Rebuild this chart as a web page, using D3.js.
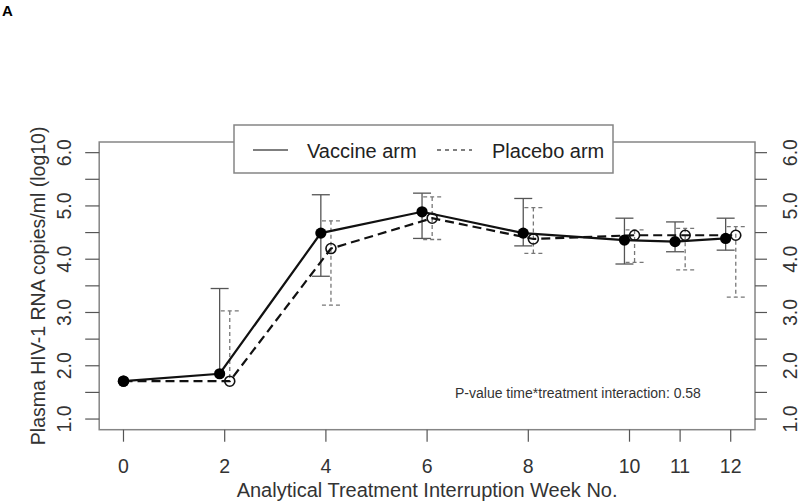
<!DOCTYPE html>
<html><head><meta charset="utf-8">
<script src="https://cdn.jsdelivr.net/npm/d3@7"></script>
<style>body{margin:0;background:#fff}svg{display:block;font-family:"Liberation Sans",Arial,sans-serif}</style>
</head><body>
<svg id="c" width="800" height="502"></svg>
<script>
// ---- data ----
const weeks = [0, 2, 4, 6, 8, 10, 11, 12];
const tickLabels = ["0", "2", "4", "6", "8", "10", "11", "12"];
const vaccineX = [0, 1.9, 3.9, 5.9, 7.9, 9.9, 10.9, 11.9];
const placeboX = [0, 2.1, 4.1, 6.1, 8.1, 10.1, 11.1, 12.1];
const vaccineMean = [1.71, 1.85, 4.49, 4.89, 4.49, 4.36, 4.33, 4.39];
const vaccineUpper = [null, 3.45, 5.21, 5.24, 5.14, 4.77, 4.70, 4.77];
const vaccineLower = [null, null, 3.68, 4.39, 4.25, 3.91, 4.14, 4.17];
const placeboMean = [1.71, 1.71, 4.20, 4.77, 4.38, 4.45, 4.45, 4.45];
const placeboUpper = [null, 3.03, 4.72, 5.17, 4.97, 4.55, 4.58, 4.61];
const placeboLower = [null, null, 3.14, 4.37, 4.11, 3.94, 3.80, 3.29];
const yTicks = [1, 2, 3, 4, 5, 6];
const yMinor = [1, 1.5, 2, 2.5, 3, 3.5, 4, 4.5, 5, 5.5, 6];
const seriesNames = ["Vaccine arm", "Placebo arm"];
const annotation = "P-value time*treatment interaction: 0.58";

const svg = d3.select("#c");
const x = d3.scaleLinear().domain([-0.48, 12.48]).range([99.2, 755]);
const y = d3.scaleLinear().domain([0.8, 6.2]).range([429.7, 142]);
const boxCol = "#858585", txtCol = "#333";

// panel letter
svg.append("text").attr("x", 2).attr("y", 16).attr("font-size", 15).attr("font-weight", "bold").text("A");

// plot box
svg.append("rect").attr("x", x.range()[0]).attr("y", y.range()[1])
  .attr("width", x.range()[1] - x.range()[0]).attr("height", y.range()[0] - y.range()[1])
  .attr("fill", "none").attr("stroke", boxCol).attr("stroke-width", 1.5);

// left axis
const gl = svg.append("g").attr("transform", `translate(${x.range()[0]},0)`);
gl.selectAll("line").data(yMinor).join("line")
  .attr("x1", -14).attr("x2", 0).attr("y1", d => y(d)).attr("y2", d => y(d))
  .attr("stroke", "#555").attr("stroke-width", 1.2);
gl.selectAll("text").data(yTicks).join("text")
  .attr("transform", d => `translate(${71 - x.range()[0]},${y(d)}) rotate(-90)`)
  .attr("text-anchor", "middle").attr("font-size", 19.5).attr("fill", txtCol)
  .text(d => d3.format(".1f")(d));

// right axis
const gr = svg.append("g").attr("transform", `translate(${x.range()[1]},0)`);
gr.selectAll("line").data(yMinor).join("line")
  .attr("x1", 0).attr("x2", 12).attr("y1", d => y(d)).attr("y2", d => y(d))
  .attr("stroke", "#555").attr("stroke-width", 1.2);
gr.selectAll("text").data(yTicks).join("text")
  .attr("transform", d => `translate(${797 - x.range()[1]},${y(d)}) rotate(-90)`)
  .attr("text-anchor", "middle").attr("font-size", 19.5).attr("fill", txtCol)
  .text(d => d3.format(".1f")(d));

// bottom axis
const gb = svg.append("g").attr("transform", `translate(0,${y.range()[0]})`);
gb.selectAll("line").data(weeks).join("line")
  .attr("x1", d => x(d)).attr("x2", d => x(d)).attr("y1", 0).attr("y2", 12)
  .attr("stroke", "#555").attr("stroke-width", 1.2);
gb.selectAll("text").data(weeks).join("text")
  .attr("x", d => x(d)).attr("y", 43).attr("text-anchor", "middle")
  .attr("font-size", 19.5).attr("fill", txtCol).text((d, i) => tickLabels[i]);

// axis titles
svg.append("text").attr("x", (x.range()[0] + x.range()[1]) / 2).attr("y", 497)
  .attr("text-anchor", "middle").attr("font-size", 20).attr("fill", txtCol)
  .text("Analytical Treatment Interruption Week No.");
svg.append("text").attr("transform", `translate(45,${(y.range()[0] + y.range()[1]) / 2}) rotate(-90)`)
  .attr("text-anchor", "middle").attr("font-size", 19.5).attr("fill", txtCol)
  .text("Plasma HIV-1 RNA copies/ml (log10)");

// error bars
function errBars(xs, mean, up, lo, col, dash) {
  const g = svg.append("g").attr("stroke", col).attr("stroke-width", 1.3).attr("fill", "none")
    .attr("stroke-dasharray", dash);
  xs.forEach((xv, i) => {
    if (up[i] == null) return;
    const top = up[i], bot = lo[i] == null ? mean[i] : lo[i];
    g.append("line").attr("x1", x(xv)).attr("x2", x(xv)).attr("y1", y(top)).attr("y2", y(bot));
    g.append("line").attr("x1", x(xv) - 9).attr("x2", x(xv) + 9).attr("y1", y(top)).attr("y2", y(top));
    if (lo[i] != null)
      g.append("line").attr("x1", x(xv) - 9).attr("x2", x(xv) + 9).attr("y1", y(bot)).attr("y2", y(bot));
  });
}
errBars(vaccineX, vaccineMean, vaccineUpper, vaccineLower, "#555", null);
errBars(placeboX, placeboMean, placeboUpper, placeboLower, "#777", "4,3");

// lines
const line = d3.line().x(d => x(d[0])).y(d => y(d[1]));
svg.append("path").datum(placeboX.map((v, i) => [v, placeboMean[i]]))
  .attr("d", line).attr("fill", "none").attr("stroke", "#111").attr("stroke-width", 2.2)
  .attr("stroke-dasharray", "9,5");
svg.append("path").datum(vaccineX.map((v, i) => [v, vaccineMean[i]]))
  .attr("d", line).attr("fill", "none").attr("stroke", "#111").attr("stroke-width", 2.2);

// points
svg.append("g").selectAll("circle").data(placeboX).join("circle")
  .attr("cx", d => x(d)).attr("cy", (d, i) => y(placeboMean[i])).attr("r", 5)
  .attr("fill", "none").attr("stroke", "#111").attr("stroke-width", 1.6);
svg.append("g").selectAll("circle").data(vaccineX).join("circle")
  .attr("cx", d => x(d)).attr("cy", (d, i) => y(vaccineMean[i])).attr("r", 5.6)
  .attr("fill", "#000");

// annotation
svg.append("text").attr("x", 455).attr("y", 398).attr("font-size", 14).attr("fill", txtCol).text(annotation);

// legend
const lg = svg.append("g");
lg.append("rect").attr("x", 234).attr("y", 125).attr("width", 379).attr("height", 48)
  .attr("fill", "#fff").attr("stroke", boxCol).attr("stroke-width", 1.5);
lg.append("line").attr("x1", 253).attr("x2", 288).attr("y1", 150).attr("y2", 150)
  .attr("stroke", "#555").attr("stroke-width", 1.4);
lg.append("line").attr("x1", 437).attr("x2", 472).attr("y1", 150).attr("y2", 150)
  .attr("stroke", "#555").attr("stroke-width", 1.4).attr("stroke-dasharray", "4,4");
lg.append("text").attr("x", 307).attr("y", 157.5).attr("font-size", 20).attr("fill", "#222").text(seriesNames[0]);
lg.append("text").attr("x", 492).attr("y", 157.5).attr("font-size", 20).attr("fill", "#222").text(seriesNames[1]);
</script>
</body></html>
